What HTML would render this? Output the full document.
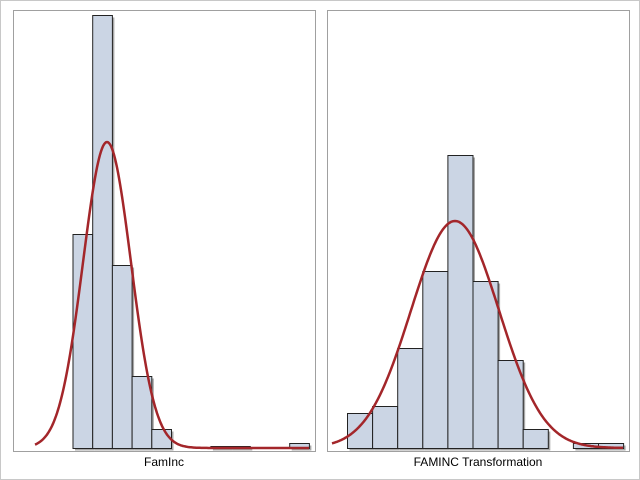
<!DOCTYPE html><html><head><style>body{margin:0;background:#fff}svg{display:block}</style></head><body>
<svg id="s" width="640" height="480" xmlns="http://www.w3.org/2000/svg" font-family="Liberation Sans, sans-serif">
<rect x="0.5" y="0.5" width="639" height="479" fill="#fff" stroke="#c8c8c8"/>
<rect x="13.5" y="10.5" width="302" height="441" fill="#fff" stroke="#a0a0a0"/>
<rect x="327.5" y="10.5" width="302" height="441" fill="#fff" stroke="#a0a0a0"/>
<g id="b"></g>
<text x="164" y="466" font-size="12" text-anchor="middle" fill="#000">FamInc</text>
<text x="478" y="466" font-size="12" text-anchor="middle" fill="#000">FAMINC Transformation</text>
</svg>
<script>
var g=document.getElementById('b'),h='';
function bars(x0,w,tops){tops.forEach(function(t,i){if(t==null)return;var x=x0+i*w;
h+='<rect x="'+(x+2.5)+'" y="'+(t+2.5)+'" width="'+w+'" height="'+(448-t)+'" fill="#a8a8a8"/>';});
tops.forEach(function(t,i){if(t==null)return;var x=x0+i*w;
h+='<rect x="'+(x+0.5)+'" y="'+(t+0.5)+'" width="'+w+'" height="'+(448-t)+'" fill="#cbd5e4" stroke="#222" stroke-width="1"/>';});}
bars(72.5,19.7,[234,15,265,376,429,null,null,446,446,null,null,443]);
bars(347,25.1,[413,406,348,271,155,281,360,429,null,443,443]);
function curve(a,b,c,s,pk,base){var d='';for(var x=a;x<=b;x+=1){var y=base-(base-pk)*Math.exp(-0.5*Math.pow((x-c)/s,2));d+=(x==a?'M':'L')+x+' '+y.toFixed(1);}
h+='<path d="'+d+'" fill="none" stroke="#a3262a" stroke-width="2.5"/>';}
curve(35,309,107,24,142,448);
curve(332,623,455,44,221,448);
g.innerHTML=h;
</script>
</body></html>
